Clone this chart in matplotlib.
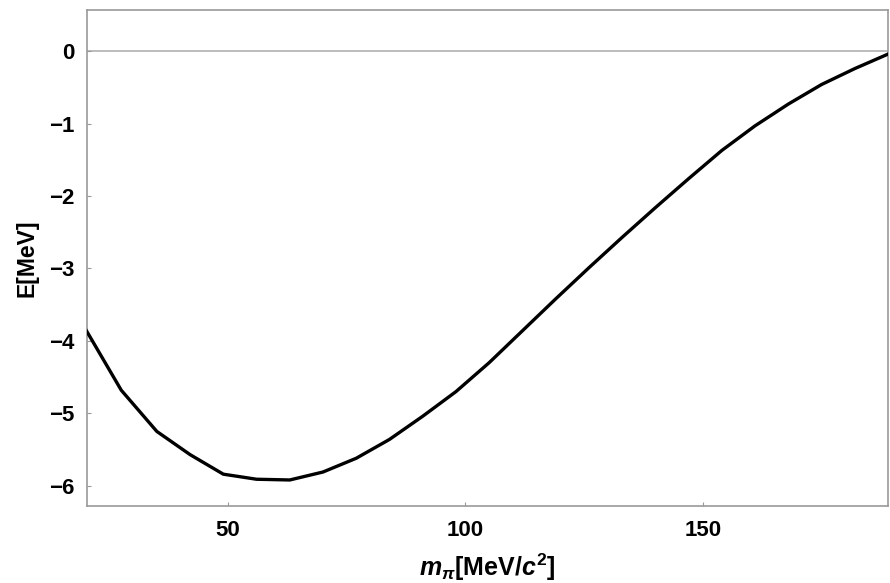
import matplotlib
matplotlib.use("Agg")
import matplotlib.pyplot as plt

plt.rcParams['font.family'] = ['Liberation Sans', 'DejaVu Sans']
plt.rcParams['mathtext.fontset'] = 'custom'
plt.rcParams['mathtext.it'] = 'Liberation Sans:italic:bold'
plt.rcParams['mathtext.rm'] = 'Liberation Sans:bold'
plt.rcParams['mathtext.bf'] = 'Liberation Sans:bold'

m_pi = [20, 27.5, 35, 42, 49, 56, 63, 70, 77, 84, 91, 98, 105, 112, 119, 126,
        133, 140, 147, 154, 161, 168, 175, 182, 189]
energy = [-3.84, -4.68, -5.25, -5.57, -5.84, -5.91, -5.92, -5.81, -5.62, -5.36,
          -5.04, -4.70, -4.30, -3.86, -3.42, -2.99, -2.57, -2.16, -1.76, -1.37,
          -1.03, -0.73, -0.46, -0.24, -0.04]
xticks = [50, 100, 150]
yticks = [0, -1, -2, -3, -4, -5, -6]

fig = plt.figure(figsize=(8.9, 5.83), dpi=100)
ax = fig.add_axes([0.0978, 0.132, 0.90, 0.851])

ax.axhline(0, color='#b0b0b0', lw=1.2, zorder=1)
ax.plot(m_pi, energy, color='black', lw=2.4, zorder=3)

ax.set_xlim(20.3, 189.0)
ax.set_ylim(-6.28, 0.57)
ax.set_xticks(xticks)
ax.set_yticks(yticks)
ax.set_yticklabels(['0', '\u22121', '\u22122', '\u22123', '\u22124', '\u22125', '\u22126'])

for s in ax.spines.values():
    s.set_color('#999999')
    s.set_linewidth(1.2)

ax.tick_params(axis='both', which='major', length=3, width=0.8, color='#999999',
               labelsize=16, direction='in')
ax.tick_params(axis='x', pad=10)
ax.tick_params(axis='y', pad=9)
for lab in ax.get_xticklabels() + ax.get_yticklabels():
    lab.set_fontweight('bold')

ax.set_xlabel(r'$m_\pi$[MeV/$c^2$]', fontsize=18, fontweight='bold', labelpad=8)
ax.set_ylabel('E[MeV]', fontsize=16.5, fontweight='bold', labelpad=8)

fig.savefig('out.png', dpi=100)
